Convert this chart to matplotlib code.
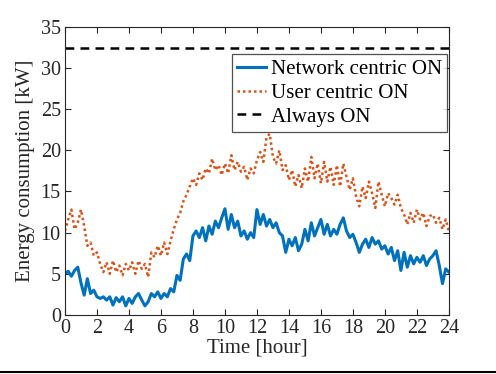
import numpy as np
import matplotlib.pyplot as plt
from matplotlib.lines import Line2D

plt.rcParams['font.family'] = ['Liberation Serif', 'DejaVu Serif']

hours = np.round(np.arange(0, 24.01, 0.2), 1)

# Network centric ON [kW], one row per hour (0.2 h step)
network_on = [
    5.0, 5.3, 4.7, 5.4, 5.8,
    3.9, 2.4, 4.4, 2.6, 3.0,
    2.2, 2.0, 2.2, 1.8, 2.2,
    1.2, 2.1, 1.6, 2.2, 1.1,
    2.0, 1.4, 2.2, 2.6, 1.8,
    1.1, 1.6, 2.6, 2.2, 2.8,
    2.0, 2.6, 2.2, 3.2, 2.8,
    4.8, 4.2, 6.8, 7.4, 6.6,
    9.6, 10.2, 9.4, 10.6, 9.0,
    10.8, 9.8, 11.4, 10.6, 11.8,
    12.9, 10.4, 12.2, 10.6, 11.4,
    9.6, 10.2, 9.2, 10.0, 9.4,
    12.8, 11.0, 12.2, 10.8, 11.6,
    10.6, 11.2, 10.0, 9.6, 7.6,
    9.2, 8.4, 9.4, 7.8, 8.6,
    10.4, 9.0, 11.2, 9.6, 10.6,
    11.6, 9.8, 11.0, 9.6, 10.4,
    9.8, 11.0, 11.8, 10.2, 9.4,
    9.8, 8.8, 7.6, 8.6, 9.2,
    8.2, 9.4, 8.6, 9.0, 8.0,
    8.4, 7.4, 8.2, 6.6, 7.8,
    5.4, 7.6, 5.8, 7.2, 6.2,
    7.0, 6.4, 7.2, 6.0, 6.8,
    7.2, 7.8, 6.0, 3.8, 5.6,
    5.2,
]

# User centric ON [kW]
user_on = [
    10.2, 11.6, 12.8, 10.4, 11.2,
    12.8, 10.8, 8.4, 8.8, 7.2,
    7.6, 6.2, 5.2, 6.4, 5.0,
    6.6, 5.2, 6.0, 4.8, 6.2,
    5.4, 6.4, 5.0, 6.6, 5.6,
    6.2, 4.6, 7.6, 7.0, 8.4,
    7.2, 8.8, 7.4, 9.0, 10.4,
    11.6, 12.4, 13.8, 14.6, 15.6,
    16.6, 15.8, 17.2, 16.4, 17.8,
    17.2, 19.0, 17.6, 18.2, 17.0,
    18.4, 17.2, 19.4, 17.6, 18.6,
    17.4, 18.0, 16.4, 17.8, 17.2,
    18.8, 19.8, 18.6, 21.6, 22.0,
    19.2, 18.4, 20.0, 17.6, 18.2,
    16.4, 17.6, 15.6, 17.0, 15.4,
    17.8, 16.2, 19.2, 16.6, 18.4,
    16.0, 18.6, 16.2, 18.0, 15.8,
    18.2, 15.6, 18.4, 16.8, 15.2,
    16.6, 14.4, 13.2, 15.6, 14.2,
    16.2, 14.8, 13.0, 16.2, 14.6,
    13.2, 14.8, 14.2, 13.4, 14.6,
    13.0, 12.2, 11.0, 12.4, 11.2,
    12.8, 11.6, 12.4, 10.8, 12.0,
    12.2, 11.2, 11.8, 10.4, 11.6,
    10.2,
]

always_on = 32.4

fig = plt.figure(figsize=(4.96, 3.74), dpi=100)
ax = fig.add_axes([0.131, 0.158, 0.774, 0.770])

ax.plot(hours, network_on, color='#0072BD', lw=2.2, label='Network centric ON')
ax.plot(hours, user_on, color='#D95319', lw=1.8, linestyle=(0, (1, 1.2)),
        label='User centric ON')
ax.plot([0, 24], [always_on, always_on], color='black', lw=1.8,
        linestyle=(0, (3.5, 2.5)), label='Always ON')

ax.set_xlim(0, 24)
ax.set_ylim(0, 35)
ax.set_xticks(np.arange(0, 25, 2))
ax.set_yticks(np.arange(0, 36, 5))
ax.tick_params(direction='in', top=True, right=True, length=4, width=0.8,
               labelsize=14.5, colors='#262626', pad=3)
for s in ax.spines.values():
    s.set_color('#262626')
    s.set_linewidth(0.8)

ax.set_xlabel('Time [hour]', fontsize=15, color='#262626', labelpad=0)
ax.set_ylabel('Energy consumption [kW]', fontsize=15, color='#262626', labelpad=4)

leg = ax.legend(loc='upper right', bbox_to_anchor=(0.995, 0.905), fontsize=15,
                frameon=True, fancybox=False, handlelength=1.4, handletextpad=0.2,
                borderpad=0.25, labelspacing=0.2, borderaxespad=0)
leg.get_frame().set_edgecolor('#262626')
leg.get_frame().set_linewidth(0.9)

fig.add_artist(Line2D([0, 1], [0.006, 0.006], color='black', lw=1.5))

fig.savefig('out.png', dpi=100)
